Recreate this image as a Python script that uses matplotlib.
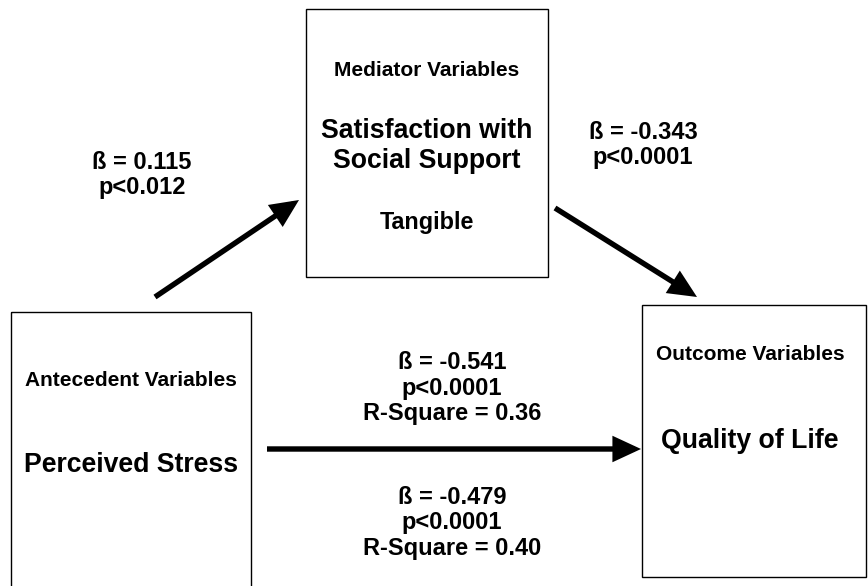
import matplotlib
matplotlib.use("Agg")
import matplotlib.pyplot as plt
from matplotlib.patches import Rectangle, FancyArrowPatch

plt.rcParams['font.family'] = ['Liberation Sans', 'DejaVu Sans']

# Boxes: (x0, y0, x1, y1) in pixel coordinates of the canvas
box_names = ["Antecedent", "Mediator", "Outcome"]
box_rects = [(11, 312, 251, 600), (306, 9, 548, 277), (642, 305, 866, 577)]

# Box texts: (x, y, text, size)
box_texts = [
    (131, 380, "Antecedent Variables", 15),
    (131, 465, "Perceived Stress", 19.2),
    (427, 70, "Mediator Variables", 15),
    (427, 131, "Satisfaction with", 19.2),
    (427, 161, "Social Support", 19.2),
    (427, 222, "Tangible", 16.8),
    (750, 355, "Outcome Variables", 15),
    (750, 441, "Quality of Life", 19.2),
]

# Path coefficients
coef_labels = [
    (142, 175, "ß = 0.115\np<0.012"),
    (643, 145, "ß = -0.343\np<0.0001"),
    (452, 388, "ß = -0.541\np<0.0001\nR-Square = 0.36"),
    (452, 523, "ß = -0.479\np<0.0001\nR-Square = 0.40"),
]

# Arrows: (x_tail, y_tail, x_head, y_head)
arrows = [
    (155, 297, 299, 200),
    (555, 208, 697, 297),
    (267, 449, 641, 449),
]

fig = plt.figure(figsize=(8.68, 5.86), dpi=100)
ax = fig.add_axes([0, 0, 1, 1])
ax.set_xlim(0, 868)
ax.set_ylim(586, 0)
ax.axis('off')

for (x0, y0, x1, y1) in box_rects:
    ax.add_patch(Rectangle((x0, y0), x1 - x0, y1 - y0, fill=False,
                           edgecolor='black', linewidth=1.0))

for x, y, t, s in box_texts:
    ax.text(x, y, t, ha='center', va='center', fontsize=s, fontweight='bold')

for x, y, t in coef_labels:
    ax.text(x, y, t, ha='center', va='center', fontsize=17, fontweight='bold',
            linespacing=1.13)

for (xt, yt, xh, yh) in arrows:
    ax.add_patch(FancyArrowPatch((xt, yt), (xh, yh),
                                 arrowstyle='-|>,head_length=1.4,head_width=0.65',
                                 mutation_scale=10, linewidth=3.9,
                                 joinstyle='miter', capstyle='butt',
                                 color='black', shrinkA=0, shrinkB=0))

fig.savefig("out.png", dpi=100)
